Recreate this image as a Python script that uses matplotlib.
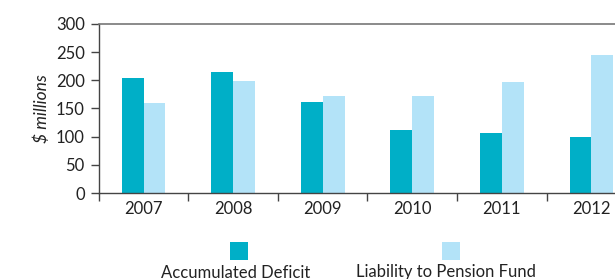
import matplotlib
matplotlib.use("Agg")
import matplotlib.pyplot as plt
from matplotlib.patches import Rectangle
import numpy as np

plt.rcParams['font.family'] = ['Lato', 'DejaVu Sans']

years = ["2007", "2008", "2009", "2010", "2011", "2012"]
accumulated_deficit = [204, 215, 162, 112, 106, 99]
pension_liability = [160, 199, 172, 172, 197, 245]
series_names = ["Accumulated Deficit", "Liability to Pension Fund"]
yticks = [0, 50, 100, 150, 200, 250, 300]

c_dark = "#00AFC7"
c_light = "#B3E3F8"

W, H = 615, 279
fig = plt.figure(figsize=(W / 100, H / 100), dpi=100)
ax = fig.add_axes([98.7 / W, 1 - 193 / H, (636.3 - 98.7) / W, (193 - 24) / H])

x = np.arange(len(years))
bw = 0.245
ax.bar(x - bw / 2, accumulated_deficit, width=bw, color=c_dark, linewidth=0)
ax.bar(x + bw / 2, pension_liability, width=bw, color=c_light, linewidth=0)

ax.set_xlim(-0.5, len(years) - 0.5)
ax.set_ylim(0, 300)
ax.set_yticks(yticks)
ax.set_yticklabels([str(v) for v in yticks], fontsize=12, color="#222222")
ax.set_xticks(x)
ax.set_xticklabels(years, fontsize=12, color="#222222")
ax.tick_params(axis='x', which='major', length=0, pad=6)
ax.set_xticks(np.arange(-0.5, len(years)), minor=True)
ax.tick_params(axis='x', which='minor', length=6, width=1, color="#444444", direction='out')
ax.tick_params(axis='y', length=6, width=1, color="#444444", direction='out', pad=4)

for s in ['left', 'bottom']:
    ax.spines[s].set_color("#444444")
    ax.spines[s].set_linewidth(1)
ax.spines['top'].set_color("#777777")
ax.spines['top'].set_linewidth(1.2)
ax.spines['right'].set_visible(False)

ax.set_ylabel("$ millions", fontsize=12.5, style='italic', color="#222222", labelpad=4)

# legend
sq = 18
for cx, col in [(239, c_dark), (451, c_light)]:
    fig.patches.append(Rectangle(((cx - sq / 2) / W, 1 - 260 / H), sq / W, sq / H,
                                 transform=fig.transFigure, color=col, linewidth=0))
tx = [236, 446]
for t, name in zip(tx, series_names):
    fig.text(t / W, 1 - 277.5 / H, name, ha='center', va='baseline', fontsize=12, color="#222222")

fig.savefig("out.png", dpi=100)
